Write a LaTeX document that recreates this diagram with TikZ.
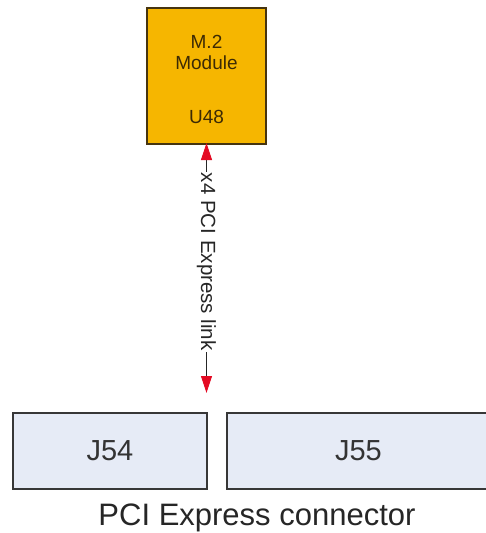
\documentclass[tikz,border=0pt]{standalone}
\usepackage{fontspec}
\setmainfont{Liberation Sans}
\usetikzlibrary{arrows.meta}
\definecolor{modfill}{RGB}{246,182,0}
\definecolor{moddraw}{RGB}{70,52,15}
\definecolor{modtext}{RGB}{60,42,5}
\definecolor{conn}{RGB}{230,235,246}
\definecolor{conndraw}{RGB}{55,55,55}
\definecolor{arrred}{RGB}{228,10,35}
\tikzset{
  modbox/.style={draw=moddraw, fill=modfill, line width=2pt, minimum width=119pt, minimum height=136pt, inner sep=0pt},
  connbox/.style={draw=conndraw, fill=conn, line width=1.5pt, minimum height=76pt, inner sep=0pt, text=black!80,
    font=\fontsize{29}{34}\selectfont},
  modlbl/.style={text=modtext, align=center, font=\fontsize{19}{21}\selectfont},
  link/.style={draw=black!85, line width=1pt, {Triangle[length=17pt,width=11pt,color=arrred]}-{Triangle[length=17pt,width=11pt,color=arrred]}},
}
\begin{document}
\begin{tikzpicture}[x=1pt,y=-1pt]
\clip (0,0) rectangle (486,533);
\fill[white] (0,0) rectangle (486,533);
\node[modbox] (m2) at (206.5,76) {};
\node[modlbl] (m2t) at (206.5,52) {M.2\\Module};
\node[modlbl] (u48) at (206.5,117) {U48};
\node[connbox, minimum width=194pt] (j54) at (110,451) {J54};
\node[connbox, minimum width=263pt] (j55) at (358.5,451) {J55};
\node[anchor=base, text=black!85, font=\fontsize{31}{36}\selectfont] (pcie) at (257,525) {PCI Express connector};
\coordinate (ltop) at ([yshift=2pt]m2.south);
\coordinate (lend) at (m2.south |- 0,393);
\draw[link] (ltop) -- (lend)
  node[pos=0.475, rotate=-90, fill=white, inner sep=1pt, text=black!85, font=\fontsize{20.5}{24}\selectfont] (lbl) {x4 PCI Express link};
\end{tikzpicture}
\end{document}
